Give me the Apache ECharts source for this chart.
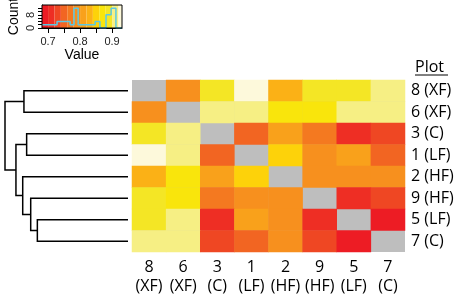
<!DOCTYPE html>
<html>
<head>
<meta charset="utf-8">
<script src="https://cdn.jsdelivr.net/npm/echarts@6/dist/echarts.min.js"></script>
<style>
  html, body { margin: 0; padding: 0; background: #fff; }
  #chart { width: 456px; height: 296px; }
</style>
</head>
<body>
<div id="chart"></div>
<script>
// plot order after clustering (rows top to bottom, columns left to right)
const plots = ['8 (XF)', '6 (XF)', '3 (C)', '1 (LF)', '2 (HF)', '9 (HF)', '5 (LF)', '7 (C)']

// similarity matrix, '-' on the diagonal (NA)
const row8 = ['-', 0.79, 0.89, 0.925, 0.83, 0.89, 0.89, 0.91]
const row6 = [0.79, '-', 0.91, 0.91, 0.87, 0.87, 0.91, 0.91]
const row3 = [0.89, 0.91, '-', 0.75, 0.81, 0.77, 0.712, 0.73]
const row1 = [0.925, 0.91, 0.75, '-', 0.85, 0.79, 0.81, 0.745]
const row2 = [0.83, 0.87, 0.81, 0.85, '-', 0.79, 0.79, 0.79]
const row9 = [0.89, 0.87, 0.77, 0.79, 0.79, '-', 0.705, 0.73]
const row5 = [0.89, 0.91, 0.712, 0.81, 0.79, 0.705, '-', 0.69]
const row7 = [0.91, 0.91, 0.73, 0.745, 0.79, 0.73, 0.69, '-']
const matrix = [row8, row6, row3, row1, row2, row9, row5, row7]

// colour key
const keyBreaks = [0.68, 0.70, 0.72, 0.74, 0.76, 0.78, 0.80, 0.82, 0.84, 0.86, 0.88, 0.90, 0.92, 0.94]
const keyColors = ['#ED1C24', '#EE2E24', '#EF4723', '#F26522', '#F47920', '#F7901E', '#F9A11B',
  '#FBB116', '#FDD20A', '#F9E50C', '#F4E625', '#F6EF84', '#FDF9DB']
const keyTicks = [0.7, 0.75, 0.8, 0.85, 0.9]
const keyLabels = [0.7, 0.8, 0.9]

// histogram in the key
const histEdges = [0.681, 0.728, 0.769, 0.781, 0.794, 0.847, 0.862, 0.881, 0.897, 0.912, 0.931]
const histCounts = [2, 4, 2, 12, 2, 4, 0, 8, 12, 0]

// row dendrogram, R style merge table (negative = leaf position)
const dendroMerge = [[-7, -8], [-6, 1], [-3, -4], [-1, -2], [-5, 2], [3, 5], [4, 6]]
const dendroHeight = [0.737, 0.791, 0.824, 0.846, 0.856, 0.911, 1.0]

const heatData = []
matrix.forEach((row, r) => {
  row.forEach((v, c) => {
    heatData.push([c, r, v])
  })
})

const histData = histCounts.map((c, i) => [histEdges[i], c])
histData.push([histEdges[histEdges.length - 1], histCounts[histCounts.length - 1]])

const nodes = []
const dendroPaths = []
function nodePos(k) {
  if (k < 0) return [0, -k - 1]
  return nodes[k - 1]
}
dendroMerge.forEach((m, i) => {
  const a = nodePos(m[0])
  const b = nodePos(m[1])
  const h = dendroHeight[i]
  dendroPaths.push({ coords: [a, [h, a[1]], [h, b[1]], b] })
  nodes.push([h, (a[1] + b[1]) / 2])
})

const pieces = keyColors.map((color, i) => ({ min: keyBreaks[i], max: keyBreaks[i + 1], color: color }))
const bands = keyColors.map((color, i) => [
  { xAxis: keyBreaks[i], itemStyle: { color: color } },
  { xAxis: Math.min(keyBreaks[i + 1], 0.931) }
])

const mainFont = '"Open Sans", sans-serif'
const keyFont = '"Liberation Sans", Arial, sans-serif'

const chart = echarts.init(document.getElementById('chart'))
chart.setOption({
  animation: false,
  grid: [
    { left: 132, top: 80, width: 273, height: 172, outerBoundsMode: 'none', show: true, borderWidth: 0, backgroundColor: '#BEBEBE' },
    { left: 42, top: 5, width: 80, height: 23, outerBoundsMode: 'none', show: true, borderColor: '#000', borderWidth: 1, z: 10 },
    { left: 5, top: 80, width: 123, height: 172, outerBoundsMode: 'none' }
  ],
  xAxis: [{
    type: 'category',
    gridIndex: 0,
    data: plots,
    axisLine: { show: false },
    axisTick: { show: false },
    axisLabel: {
      interval: 0,
      formatter: v => v.replace(' ', '\n'),
      fontFamily: mainFont,
      fontSize: 16,
      lineHeight: 19,
      color: '#000',
      margin: 6
    }
  }, {
    type: 'value',
    gridIndex: 1,
    min: 0.681,
    max: 0.931,
    name: 'Value',
    nameLocation: 'middle',
    nameGap: 20,
    nameTextStyle: { fontFamily: keyFont, fontSize: 14, color: '#000' },
    splitLine: { show: false },
    axisLine: { show: true, lineStyle: { color: '#000' } },
    axisTick: { show: true, length: 5, customValues: keyTicks, lineStyle: { color: '#000' } },
    axisLabel: { customValues: keyLabels, fontFamily: keyFont, fontSize: 11, color: '#222', margin: 8 }
  }, {
    type: 'value',
    gridIndex: 2,
    min: 0,
    max: 1.0,
    inverse: true,
    show: false
  }],
  yAxis: [{
    type: 'category',
    gridIndex: 0,
    data: plots,
    inverse: true,
    position: 'right',
    axisLine: { show: false },
    axisTick: { show: false },
    axisLabel: { interval: 0, fontFamily: mainFont, fontSize: 16, color: '#000', margin: 6 }
  }, {
    type: 'value',
    gridIndex: 1,
    min: 0,
    max: 14,
    name: 'Count',
    nameLocation: 'middle',
    nameRotate: 90,
    nameGap: 21,
    nameTextStyle: { fontFamily: keyFont, fontSize: 14, color: '#000' },
    splitLine: { show: false },
    axisLine: { show: true, lineStyle: { color: '#000' } },
    axisTick: { show: true, length: 4, customValues: [0, 2, 4, 6, 8, 10, 12], lineStyle: { color: '#000' } },
    axisLabel: { customValues: [0, 8], rotate: 90, fontFamily: keyFont, fontSize: 11, color: '#222', margin: 6 }
  }, {
    type: 'value',
    gridIndex: 2,
    min: -0.5,
    max: 7.5,
    inverse: true,
    show: false
  }],
  visualMap: {
    type: 'piecewise',
    show: false,
    seriesIndex: 0,
    pieces: pieces
  },
  series: [{
    type: 'heatmap',
    xAxisIndex: 0,
    yAxisIndex: 0,
    data: heatData,
    silent: true
  }, {
    type: 'line',
    xAxisIndex: 1,
    yAxisIndex: 1,
    data: [],
    z: 1,
    silent: true,
    markArea: { silent: true, label: { show: false }, data: bands }
  }, {
    type: 'line',
    xAxisIndex: 1,
    yAxisIndex: 1,
    data: histData,
    step: 'end',
    symbol: 'none',
    z: 3,
    silent: true,
    lineStyle: { color: '#5BC8E3', width: 1.5 }
  }, {
    type: 'lines',
    coordinateSystem: 'cartesian2d',
    xAxisIndex: 2,
    yAxisIndex: 2,
    polyline: true,
    silent: true,
    lineStyle: { color: '#000', width: 1.5, opacity: 1 },
    data: dendroPaths
  }],
  graphic: [{
    type: 'text',
    left: 415,
    top: 59,
    style: { text: 'Plot', font: '16px "Open Sans", sans-serif', fill: '#000' }
  }, {
    type: 'line',
    shape: { x1: 415, y1: 75, x2: 448, y2: 75 },
    style: { stroke: '#000', lineWidth: 1 }
  }]
})
</script>
</body>
</html>
